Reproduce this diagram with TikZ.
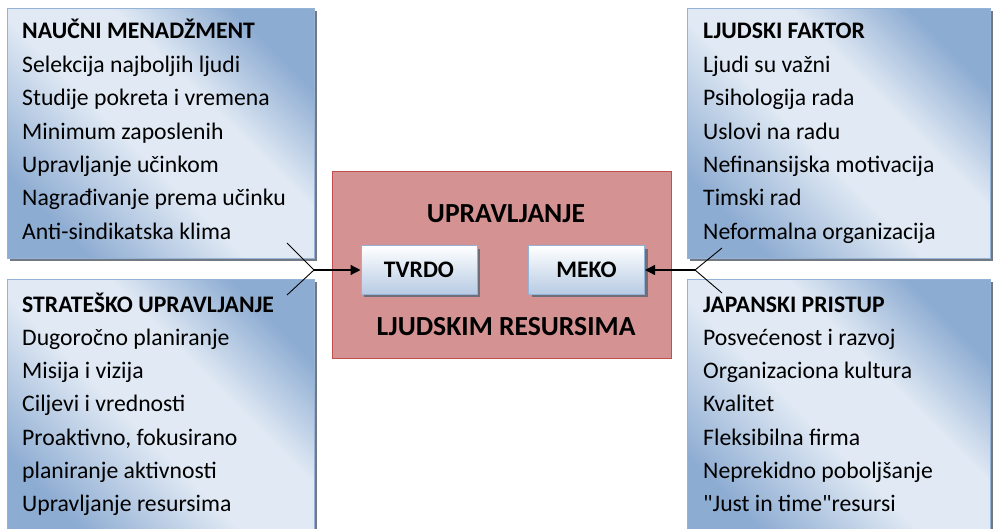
\documentclass[tikz,border=0pt]{standalone}
\usepackage{fontspec}
\setmainfont{Carlito}[Ligatures=TeXOff]
\usetikzlibrary{shadows,arrows.meta}
\definecolor{blight}{RGB}{224,233,244}
\definecolor{bdark}{RGB}{141,172,210}
\definecolor{bborder}{RGB}{149,179,215}
\definecolor{ibottom}{RGB}{183,203,228}
\definecolor{redfill}{RGB}{213,146,146}
\definecolor{redborder}{RGB}{192,80,77}
\definecolor{shadowgray}{RGB}{100,106,118}
\pgfdeclarehorizontalshading{boxshade}{100bp}{color(0bp)=(bdark); color(25bp)=(bdark); color(45bp)=(blight); color(60bp)=(blight); color(75bp)=(bdark); color(100bp)=(bdark)}
\tikzset{
  outerbox/.style={draw=bborder, line width=0.8pt, shading=boxshade, shading angle=45,
    drop shadow={shadow xshift=3pt, shadow yshift=-3pt, fill=shadowgray, opacity=0.9},
    inner sep=0pt, anchor=north west, minimum width=307, minimum height=250},
  centerbox/.style={draw=redborder, line width=1.2pt, fill=redfill, inner sep=0pt,
    anchor=north west, minimum width=339, minimum height=187},
  innerbox/.style={draw=bborder, line width=1pt, top color=white, bottom color=ibottom,
    drop shadow={shadow xshift=3pt, shadow yshift=-3pt, fill=shadowgray, opacity=0.9},
    minimum width=116, minimum height=48, inner sep=0pt,
    font=\fontsize{23.7}{28}\selectfont\bfseries},
  item/.style={font=\fontsize{23.7}{28}\selectfont, anchor=base west, inner sep=0pt},
  head/.style={font=\fontsize{23.7}{28}\selectfont\bfseries, anchor=base west, inner sep=0pt},
  ctitle/.style={font=\fontsize{27.6}{32}\selectfont\bfseries, anchor=base, inner sep=0pt},
  fork/.style={line width=0.9pt, black},
  conn/.style={line width=1.3pt, black, -{Triangle[length=10pt,width=10pt]}}
}
\begin{document}
\begin{tikzpicture}[x=1pt,y=-1pt]
\useasboundingbox (0,0) rectangle (995,529);
\clip (0,0) rectangle (995,529);
% outer boxes
\node[outerbox] (tlbox) at (7,8) {};
\node[outerbox, minimum height=262] (blbox) at (7,279) {};
\node[outerbox, minimum width=303] (trbox) at (687,8) {};
\node[outerbox, minimum width=303, minimum height=262] (brbox) at (687,279) {};
% top-left text
\node[head] (tlh) at (22,39) {NAUČNI MENADŽMENT};
\foreach \t [count=\i] in {Selekcija najboljih ljudi, Studije pokreta i vremena, Minimum zaposlenih, Upravljanje učinkom, Nagrađivanje prema učinku, Anti-sindikatska klima}
  \node[item] (tl\i) at (22,{39+33.4*\i}) {\t};
% bottom-left text
\node[head] (blh) at (22,312) {STRATEŠKO UPRAVLJANJE};
\foreach \t [count=\i] in {Dugoročno planiranje, Misija i vizija, Ciljevi i vrednosti, {Proaktivno, fokusirano}, planiranje aktivnosti, Upravljanje resursima}
  \node[item] (bl\i) at (22,{312+33.3*\i}) {\t};
% top-right text
\node[head] (trh) at (703,39) {LJUDSKI FAKTOR};
\foreach \t [count=\i] in {Ljudi su važni, Psihologija rada, Uslovi na radu, Nefinansijska motivacija, Timski rad, Neformalna organizacija}
  \node[item] (tr\i) at (703,{39+33.4*\i}) {\t};
% bottom-right text
\node[head] (brh) at (703,312) {JAPANSKI PRISTUP};
\foreach \t [count=\i] in {Posvećenost i razvoj, Organizaciona kultura, Kvalitet, Fleksibilna firma, Neprekidno poboljšanje, "Just in time"resursi}
  \node[item] (br\i) at (703,{312+33.3*\i}) {\t};
% center
\node[centerbox] (center) at (332,171) {};
\node[ctitle] (upr) at (506,223) {UPRAVLJANJE};
\node[ctitle] (ljr) at (506,335) {LJUDSKIM RESURSIMA};
\node[innerbox] (tvrdo) at (419,270) {TVRDO};
\node[innerbox] (meko) at (586.5,270) {MEKO};
% connectors
\coordinate (jl) at (314,270);
\coordinate (fl1) at (287,243);
\coordinate (fl2) at (287,295);
\draw[fork] (fl1) -- (jl) -- (fl2);
\draw[conn] (jl) -- (tvrdo.west);
\coordinate (jr) at (695,270);
\coordinate (fr1) at (722,248);
\coordinate (fr2) at (722,293);
\draw[fork] (fr1) -- (jr) -- (fr2);
\draw[conn] (jr) -- (meko.east);
\end{tikzpicture}
\end{document}
